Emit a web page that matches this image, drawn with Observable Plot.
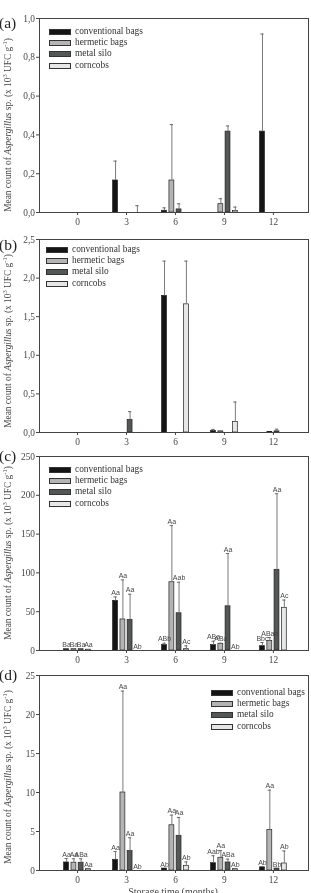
<!DOCTYPE html>
<html><head><meta charset="utf-8">
<script src="https://cdn.jsdelivr.net/npm/d3@7"></script>
<script src="https://cdn.jsdelivr.net/npm/@observablehq/plot@0.6"></script>
<style>
body{margin:0;background:#fff;}
#root{position:relative;width:311px;height:893px;overflow:hidden;font-family:"Liberation Serif",serif;color:#333;}
.panel{position:absolute;left:0;will-change:transform;}
.panel text{opacity:0.98;}
.plab{position:absolute;left:-1px;font-size:15.5px;line-height:16px;color:#222;}
.ylab{position:absolute;white-space:nowrap;transform:translate(-50%,-50%) rotate(-90deg);font-size:9.4px;line-height:10px;color:#444;}
.ylab sup{font-size:6.5px;vertical-align:4px;line-height:0;}
.leg{position:absolute;font-size:9.4px;color:#333;}
.legrow{position:absolute;white-space:nowrap;height:11px;line-height:11px;}
.sw{position:absolute;top:3px;width:20px;height:4px;border:1px solid #333;}
.xtitle{position:absolute;top:886px;left:0;width:311px;padding-left:35px;box-sizing:border-box;text-align:center;font-size:10px;line-height:12px;color:#444;}
</style>
</head><body><div id="root"></div>
<script>
// ---------- data ----------
const months = [0, 3, 6, 9, 12];
const series = ["conventional bags", "hermetic bags", "metal silo", "corncobs"];
const seriesColors = ["#141414", "#b4b4b4", "#535856", "#e6e6e6"];

// panel (a)  rows: conventional, hermetic, metal silo, corncobs
const meansA = [[0, 0.165, 0.009, 0, 0.417], [0, 0, 0.165, 0.043, 0], [0, 0, 0.016, 0.417, 0], [0, 0, 0, 0.007, 0]];
const errsA  = [[0, 0.10, 0.015, 0, 0.503], [0, 0, 0.288, 0.028, 0], [0, 0, 0.029, 0.029, 0], [0, 0.035, 0, 0.021, 0]];
// panel (b)
const meansB = [[0, 0, 1.77, 0.02, 0], [0, 0, 0, 0.015, 0.005], [0, 0.164, 0, 0, 0.015], [0, 0, 1.66, 0.137, 0]];
const errsB  = [[0, 0, 0.45, 0.02, 0], [0, 0, 0, 0, 0], [0, 0.106, 0, 0, 0.028], [0, 0, 0.56, 0.258, 0]];
// panel (c)
const meansC = [[1.7, 64, 6.9, 6.9, 5.6], [1.7, 40, 88, 8.6, 12.4], [1.7, 39.5, 48, 57, 104], [1.0, 0, 1.7, 0, 55]];
const errsC  = [[0.5, 5, 2.5, 5, 4.7], [0.5, 51, 73, 0.8, 4.3], [0.5, 33, 40, 68, 98], [0.3, 0, 4.3, 0, 10]];
const labelsC = [["Ba", "Aa", "ABb", "ABa", "Bbc"], ["Ba", "Aa", "Aa", "ABa", "ABab"], ["Ba", "Aa", "Aab", "Aa", "Aa"], ["Aa", "Ab", "Ac", "Ab", "Ac"]];
// panel (d)
const meansD = [[1.03, 1.37, 0.25, 0.94, 0.4], [1.0, 10, 5.8, 1.63, 5.2], [1.0, 2.5, 4.45, 1.03, 0.25], [0.17, 0, 0.6, 0.17, 0.9]];
const errsD  = [[0.5, 1.05, 0, 0.95, 0.1], [0.5, 13, 1.3, 0.94, 5.1], [0.5, 1.7, 2.35, 0.43, 0], [0, 0, 0.5, 0, 1.6]];
const labelsD = [["Aa", "Aa", "Ab", "Aab", "Ab"], ["Aa", "Aa", "Aa", "Aa", "Aa"], ["ABa", "Aa", "Aa", "ABa", "Bb"], ["Aa", "Ab", "Ab", "Ab", "Ab"]];

const ticksA = [0, 0.2, 0.4, 0.6, 0.8, 1.0];
const ticksB = [0, 0.5, 1.0, 1.5, 2.0, 2.5];
const ticksC = [0, 50, 100, 150, 200, 250];
const ticksD = [0, 5, 10, 15, 20, 25];

// ---------- layout ----------
const groupOffset = [-0.67, -0.22, 0.22, 0.67]; // months
const barW = 0.3;
const comma = d => d3.format(".1f")(d).replace(".", ",");

const root = document.getElementById("root");

function makePanel(cfg) {
  const rows = [];
  series.forEach((s, i) => months.forEach((m, j) => rows.push({
    series: s, si: i, month: m, mean: cfg.means[i][j], err: cfg.errs[i][j],
    label: cfg.labels ? cfg.labels[i][j] : ""
  })));
  const xc = d => d.month + groupOffset[d.si];
  const withErr = rows.filter(d => d.err > 0);
  const mT = 18, mB = 26;
  const chart = Plot.plot({
    width: 311, height: mT + cfg.h + mB,
    marginTop: mT, marginBottom: mB, marginLeft: 39, marginRight: 3,
    x: {domain: [-2.33, 14.15], ticks: months, tickSize: 3, tickPadding: 3, label: null, tickFormat: d => String(d)},
    y: {domain: [0, cfg.max], ticks: cfg.ticks, tickSize: 3, tickPadding: 1.5, label: null, tickFormat: cfg.fmt},
    color: {domain: series, range: seriesColors},
    marks: [
      Plot.rectY(rows.filter(d => d.mean > 0), {x1: d => xc(d) - barW / 2, x2: d => xc(d) + barW / 2, y1: 0, y2: "mean", fill: "series", stroke: "#222", strokeWidth: 0.7}),
      Plot.ruleX(withErr, {x: xc, y1: "mean", y2: d => d.mean + d.err, stroke: "#7a7a7a", strokeWidth: 1}),
      Plot.ruleY(withErr, {y: d => d.mean + d.err, x1: d => xc(d) - 0.1, x2: d => xc(d) + 0.1, stroke: "#6a6a6a", strokeWidth: 1}),
      cfg.labels ? Plot.text(rows, {x: xc, y: d => d.mean + d.err, text: "label", dy: -2, lineAnchor: "bottom", fontSize: 7, fontFamily: "Liberation Sans, Arial, sans-serif", fill: "#444"}) : null,
      Plot.frame({stroke: "#444", strokeWidth: 1})
    ],
    style: {fontFamily: "Liberation Serif, serif", fontSize: "9.4px", color: "#444", background: "transparent", overflow: "visible"}
  });
  chart.classList.add("panel");
  chart.style.top = (cfg.top - mT) + "px";
  root.appendChild(chart);

  const pl = document.createElement("div");
  pl.className = "plab"; pl.textContent = cfg.tag;
  pl.style.top = (cfg.tagY - 8) + "px";
  root.appendChild(pl);

  const yl = document.createElement("div");
  yl.className = "ylab";
  yl.innerHTML = "Mean count of <i>Aspergillus</i> sp. (x 10<sup>3</sup> UFC g<sup>-1</sup>)";
  yl.style.left = "8px"; yl.style.top = cfg.ylabY + "px";
  root.appendChild(yl);

  series.forEach((s, i) => {
    const r = document.createElement("div");
    r.className = "legrow leg";
    r.style.left = cfg.legX + "px";
    r.style.top = (cfg.legY + i * 11.4 - 5.5) + "px";
    const sw = document.createElement("span");
    sw.className = "sw"; sw.style.background = seriesColors[i]; sw.style.left = "0px";
    const t = document.createElement("span");
    t.textContent = s; t.style.marginLeft = "26px";
    r.appendChild(sw); r.appendChild(t);
    root.appendChild(r);
  });
}

makePanel({tag: "(a)", tagY: 23, top: 18, h: 194, max: 1.0, ticks: ticksA, fmt: comma, means: meansA, errs: errsA, ylabY: 125, legX: 49, legY: 31});
makePanel({tag: "(b)", tagY: 245, top: 239, h: 193, max: 2.5, ticks: ticksB, fmt: comma, means: meansB, errs: errsB, ylabY: 341, legX: 46, legY: 249});
makePanel({tag: "(c)", tagY: 456, top: 456, h: 194, max: 250, ticks: ticksC, fmt: d => String(d), means: meansC, errs: errsC, labels: labelsC, ylabY: 553, legX: 49, legY: 469});
makePanel({tag: "(d)", tagY: 675, top: 675, h: 195, max: 25, ticks: ticksD, fmt: d => String(d), means: meansD, errs: errsD, labels: labelsD, ylabY: 777, legX: 211, legY: 692});

const xt = document.createElement("div");
xt.className = "xtitle"; xt.textContent = "Storage time (months)";
root.appendChild(xt);
</script>
</body></html>
